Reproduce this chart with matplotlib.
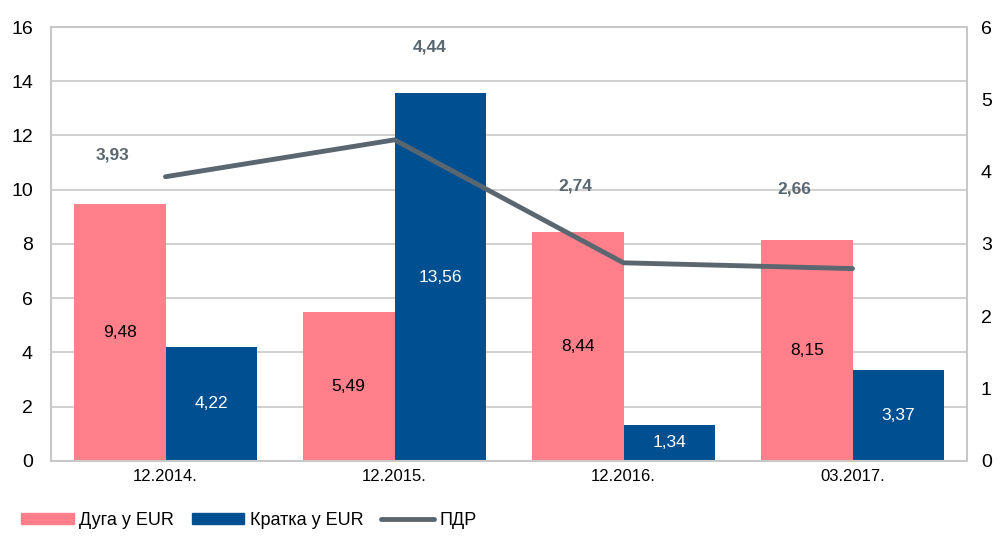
import numpy as np
import matplotlib
matplotlib.use("Agg")
import matplotlib.pyplot as plt
from matplotlib.patches import Patch
from matplotlib.lines import Line2D

plt.rcParams["font.family"] = ["Liberation Sans", "DejaVu Sans"]

categories = ["12.2014.", "12.2015.", "12.2016.", "03.2017."]
duga = [9.48, 5.49, 8.44, 8.15]
kratka = [4.22, 13.56, 1.34, 3.37]
pdr = [3.93, 4.44, 2.74, 2.66]
# label offsets for the ПДР line (points)
pdr_off = [(-38, 16), (25, 67), (-35, 55), (-42, 57)]

PINK = "#FF808B"; BLUE = "#005091"; GRAY = "#5B6770"; GRID = "#C8C8C8"

fig = plt.figure(figsize=(10, 5.4), dpi=100)
ax = fig.add_axes([0.051, 0.1463, 0.916, 0.8037])
x = np.arange(len(categories))
w = 0.4
ax.bar(x - w/2, duga, w, color=PINK, zorder=2)
ax.bar(x + w/2, kratka, w, color=BLUE, zorder=2)
for xi, v in zip(x, duga):
    ax.text(xi - w/2, v/2, f"{v:.2f}".replace(".", ","), ha="center", va="center", fontsize=12.5, color="black", zorder=3)
for xi, v in zip(x, kratka):
    ax.text(xi + w/2, v/2, f"{v:.2f}".replace(".", ","), ha="center", va="center", fontsize=12.5, color="white", zorder=3)

ax.set_xlim(-0.5, len(categories) - 0.5)
ax.set_ylim(0, 16)
ax.set_yticks(range(0, 17, 2))
ax.set_xticks(x)
ax.set_xticklabels(categories)
ax.grid(axis="y", color=GRID, lw=1.2, zorder=0)
for s in ax.spines.values():
    s.set_color(GRID); s.set_linewidth(1.5)
ax.tick_params(axis="y", length=0, labelsize=14, pad=13)
ax.tick_params(axis="x", length=0, labelsize=12, pad=6)

ax2 = ax.twinx()
ax2.set_ylim(0, 6)
ax2.set_yticks(range(0, 7))
ax2.plot(x, pdr, color=GRAY, lw=3.5, solid_capstyle="round", zorder=4)
for xi, v, off in zip(x, pdr, pdr_off):
    ax2.annotate(f"{v:.2f}".replace(".", ","), (xi, v), xytext=off, textcoords="offset points",
                 ha="center", va="center", fontsize=12.5, fontweight="bold", color=GRAY)
for s in ax2.spines.values():
    s.set_visible(False)
ax2.tick_params(axis="y", length=0, labelsize=14, pad=10)

handles = [Patch(color=PINK), Patch(color=BLUE), Line2D([0], [0], color=GRAY, lw=3.5, solid_capstyle="round")]
fig.legend(handles, ["Дуга у EUR", "Кратка у EUR", "ПДР"], loc="lower left", bbox_to_anchor=(0.005, -0.01),
           ncol=3, frameon=False, fontsize=13, handlelength=2.9, handleheight=0.55, columnspacing=1.0, handletextpad=0.3)

fig.savefig("out.png", dpi=100)
